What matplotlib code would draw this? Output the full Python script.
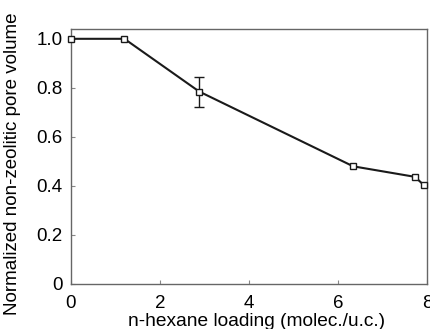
import numpy as np
import matplotlib.pyplot as plt

plt.rcParams['font.family'] = ['Liberation Sans', 'DejaVu Sans']

loading = [0.0, 1.2, 2.88, 6.34, 7.73, 7.93]
volume = [1.0, 1.0, 0.785, 0.48, 0.437, 0.403]
# error bar only on the third point
err_x = [2.88]
err_y = [0.785]
err_lo = [0.063]
err_hi = [0.06]

fig = plt.figure(figsize=(4.31, 3.29), dpi=100)
ax = fig.add_axes([71/431, 45/329, 356/431, 255/329])

ax.errorbar(err_x, err_y, yerr=[err_lo, err_hi], fmt='none', ecolor='#1a1a1a',
            elinewidth=1.0, capsize=3.3, capthick=1.0)
ax.plot(loading, volume, color='#1a1a1a', lw=1.5, marker='s', ms=5,
        mfc='white', mec='#1a1a1a', mew=1.0, clip_on=False, zorder=3)

ax.set_xlim(0, 8)
ax.set_ylim(0, 1.04)
ax.set_xticks([0, 2, 4, 6, 8])
ax.set_xticklabels(['0', '2', '4', '6', '8'])
ax.set_yticks([0, 0.2, 0.4, 0.6, 0.8, 1.0])
ax.set_yticklabels(['0', '0.2', '0.4', '0.6', '0.8', '1.0'])
ax.tick_params(direction='in', length=3, width=0.8, color='#888888', labelsize=13.5)
ax.tick_params(axis='x', pad=8)
ax.tick_params(axis='y', pad=6)
for s in ax.spines.values():
    s.set_color('#666666')
    s.set_linewidth(1.0)

ax.set_xlabel('n-hexane loading (molec./u.c.)', fontsize=13.8, va='center')
ax.set_ylabel('Normalized non-zeolitic pore volume', fontsize=13.5, va='center')
ax.xaxis.set_label_coords((257 - 71) / 356, -(322 - 284) / 255)
ax.yaxis.set_label_coords((12 - 71) / 356, (284 - 164) / 255)

fig.savefig('out.png', dpi=100)
